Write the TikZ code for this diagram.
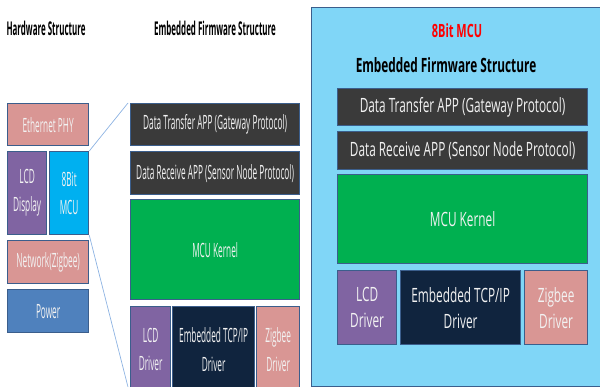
\documentclass[tikz,border=0pt]{standalone}
\usepackage{fontspec}
\setmainfont{Open Sans}
\newfontfamily\narrowfont[FakeStretch=0.42]{Open Sans}
\newfontfamily\midfont[FakeStretch=0.6]{Open Sans}
\usetikzlibrary{positioning}

\definecolor{pinkc}{HTML}{D99694}
\definecolor{purplec}{HTML}{8064A2}
\definecolor{cyanc}{HTML}{00B0F0}
\definecolor{powerc}{HTML}{4F81BD}
\definecolor{darkc}{HTML}{3A3A3A}
\definecolor{greenc}{HTML}{00B050}
\definecolor{navyc}{HTML}{10243E}
\definecolor{skyc}{HTML}{80D6F7}
\definecolor{boxline}{HTML}{3B5E8C}
\definecolor{zoomline}{HTML}{8DB3E2}

\newcommand\lefttxt{\narrowfont\fontsize{14}{20}\selectfont}
\newcommand\righttxt{\midfont\fontsize{14}{18.5}\selectfont}

\tikzset{
  blk/.style 2 args={draw=boxline, line width=0.9pt, inner sep=0pt,
    minimum width=#1*0.025cm, minimum height=#2*0.025cm,
    anchor=north west, text=white!95!black, align=center},
  lblk/.style={font=\lefttxt},
  rblk/.style={font=\righttxt},
}

\begin{document}
\begin{tikzpicture}[x=0.025cm, y=-0.025cm]

\useasboundingbox (0,0) rectangle (600,387);
\clip (0,0) rectangle (600,387);

% titles
\node[font=\narrowfont\bfseries\fontsize{13.5}{15}\selectfont] (hwtitle) at (46,28) {Hardware Structure};
\node[font=\narrowfont\bfseries\fontsize{13.5}{15}\selectfont] (fwtitle) at (215,28) {Embedded Firmware Structure};

% hardware column
\node[blk={81}{42}, lblk, fill=pinkc] (ethphy) at (7,103) {Ethernet PHY};
\node[blk={39}{83}, lblk, fill=purplec] (lcd) at (7,151) {LCD\\Display};
\node[blk={39}{83}, lblk, fill=cyanc] (mcu) at (49,151) {8Bit\\MCU};
\node[blk={81}{43}, lblk, fill=pinkc] (net) at (7,240) {Network(Zigbee)};
\node[blk={81}{43}, lblk, fill=powerc] (power) at (7,289) {Power};

% firmware column
\node[blk={169}{42}, lblk, fill=darkc] (txapp) at (130,103) {Data Transfer APP (Gateway Protocol)};
\node[blk={169}{43}, lblk, fill=darkc] (rxapp) at (130,151) {Data Receive APP (Sensor Node Protocol)};
\node[blk={169}{100}, lblk, fill=greenc] (kernel) at (130,199) {MCU Kernel};
\node[blk={40}{86}, lblk, fill=purplec] (lcddrv) at (130,306) {LCD\\Driver};
\node[blk={82}{86}, lblk, fill=navyc] (tcpdrv) at (172,306) {Embedded TCP/IP\\Driver};
\node[blk={43}{86}, lblk, fill=pinkc] (zbdrv) at (256,306) {Zigbee\\Driver};

% zoom lines
\coordinate (zoomtop) at (128,103);
\coordinate (zoombot) at (128,387);
\draw[zoomline, line width=0.5pt] (mcu.north east) -- (zoomtop);
\draw[zoomline, line width=0.5pt] (mcu.south east) -- (zoombot);

% right panel
\node[draw=boxline, fill=skyc, line width=1pt, inner sep=0pt,
  minimum width=300*0.025cm, minimum height=379*0.025cm, anchor=north west] (panel) at (311,7) {};
\node[text=red, font=\midfont\bfseries\fontsize{13}{15}\selectfont] (mcutitle) at (457,31) {8Bit MCU};
\node[font=\midfont\bfseries\fontsize{14}{16}\selectfont] (fwtitle2) at (446,65) {Embedded Firmware Structure};

\node[blk={250}{37}, rblk, fill=darkc] (txapp2) at (337,88) {Data Transfer APP (Gateway Protocol)};
\node[blk={250}{38}, rblk, fill=darkc] (rxapp2) at (337,131) {Data Receive APP (Sensor Node Protocol)};
\node[blk={250}{89}, rblk, fill=greenc] (kernel2) at (337,174) {MCU Kernel};
\node[blk={59}{74}, rblk, fill=purplec] (lcddrv2) at (337,270) {LCD\\Driver};
\node[blk={120}{74}, rblk, fill=navyc] (tcpdrv2) at (400,270) {Embedded TCP/IP\\Driver};
\node[blk={63}{74}, rblk, fill=pinkc] (zbdrv2) at (524,270) {Zigbee\\Driver};

\end{tikzpicture}
\end{document}
